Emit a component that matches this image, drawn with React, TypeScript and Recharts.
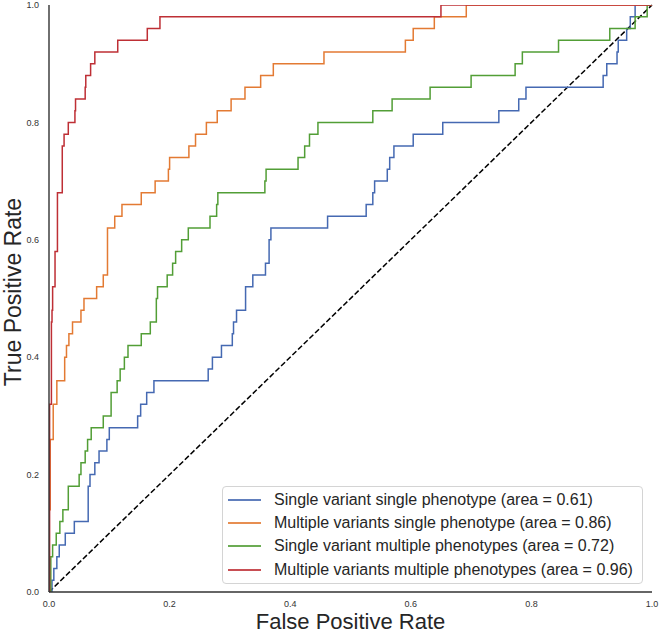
import React from 'react';
import { LineChart, Line, XAxis, YAxis, ReferenceLine, Legend } from 'recharts';

const axisTicks = [0, 0.2, 0.4, 0.6, 0.8, 1.0];

const seriesNames = [
  'Single variant single phenotype (area = 0.61)',
  'Multiple variants single phenotype (area = 0.86)',
  'Single variant multiple phenotypes (area = 0.72)',
  'Multiple variants multiple phenotypes (area = 0.96)',
];
const seriesColors = ['#4569B2', '#E37A33', '#529E36', '#BE2F35'];

// Single variant single phenotype
const svspFpr = [0, 0.005, 0.008, 0.013, 0.017, 0.027, 0.042, 0.065, 0.068, 0.076, 0.083, 0.096, 0.100, 0.147, 0.152, 0.162, 0.174, 0.264, 0.271, 0.286, 0.304, 0.306, 0.311, 0.326, 0.338, 0.359, 0.365, 0.368, 0.462, 0.526, 0.537, 0.540, 0.561, 0.565, 0.572, 0.604, 0.653, 0.746, 0.779, 0.791, 0.919, 0.925, 0.942, 0.944, 0.958, 0.964, 0.972, 1.0];
const svspTpr = [0, 0.02, 0.04, 0.06, 0.08, 0.10, 0.12, 0.18, 0.20, 0.22, 0.24, 0.26, 0.28, 0.30, 0.32, 0.34, 0.36, 0.38, 0.40, 0.42, 0.44, 0.46, 0.48, 0.52, 0.54, 0.56, 0.60, 0.62, 0.64, 0.66, 0.68, 0.70, 0.72, 0.74, 0.76, 0.78, 0.80, 0.82, 0.84, 0.86, 0.88, 0.90, 0.92, 0.94, 0.96, 0.98, 1.0, 1.0];

// Multiple variants single phenotype
const mvspFpr = [0, 0, 0.002, 0.007, 0.013, 0.026, 0.029, 0.033, 0.039, 0.053, 0.058, 0.079, 0.090, 0.097, 0.109, 0.121, 0.153, 0.176, 0.198, 0.200, 0.232, 0.243, 0.261, 0.279, 0.302, 0.325, 0.351, 0.372, 0.456, 0.591, 0.604, 0.639, 0.692, 1.0];
const mvspTpr = [0, 0.14, 0.26, 0.32, 0.36, 0.40, 0.42, 0.44, 0.46, 0.48, 0.50, 0.52, 0.54, 0.62, 0.64, 0.66, 0.68, 0.70, 0.72, 0.74, 0.76, 0.78, 0.80, 0.82, 0.84, 0.86, 0.88, 0.90, 0.92, 0.94, 0.96, 0.98, 1.0, 1.0];

// Single variant multiple phenotypes
const svmpFpr = [0, 0.003, 0.006, 0.012, 0.018, 0.023, 0.032, 0.050, 0.053, 0.060, 0.064, 0.070, 0.090, 0.103, 0.113, 0.118, 0.125, 0.131, 0.153, 0.168, 0.178, 0.180, 0.196, 0.205, 0.210, 0.220, 0.231, 0.267, 0.278, 0.280, 0.358, 0.360, 0.413, 0.424, 0.432, 0.446, 0.537, 0.569, 0.632, 0.700, 0.773, 0.785, 0.845, 0.930, 0.972, 0.992, 1.0];
const svmpTpr = [0, 0.06, 0.08, 0.10, 0.12, 0.14, 0.18, 0.20, 0.22, 0.24, 0.26, 0.28, 0.30, 0.34, 0.36, 0.38, 0.40, 0.42, 0.44, 0.46, 0.50, 0.52, 0.54, 0.56, 0.58, 0.60, 0.62, 0.64, 0.66, 0.68, 0.70, 0.72, 0.74, 0.76, 0.78, 0.80, 0.82, 0.84, 0.86, 0.88, 0.90, 0.92, 0.94, 0.96, 0.98, 1.0, 1.0];

// Multiple variants multiple phenotypes
const mvmpFpr = [0, 0.001, 0.004, 0.005, 0.006, 0.010, 0.014, 0.022, 0.025, 0.032, 0.043, 0.044, 0.060, 0.061, 0.069, 0.076, 0.114, 0.163, 0.184, 0.650, 1.0];
const mvmpTpr = [0, 0.32, 0.46, 0.48, 0.52, 0.58, 0.68, 0.76, 0.78, 0.80, 0.82, 0.84, 0.86, 0.88, 0.90, 0.92, 0.94, 0.96, 0.98, 1.0, 1.0];

const zip = (xs: number[], ys: number[]) => xs.map((x, i) => ({ x, y: ys[i] }));

const seriesData = [
  zip(svspFpr, svspTpr),
  zip(mvspFpr, mvspTpr),
  zip(svmpFpr, svmpTpr),
  zip(mvmpFpr, mvmpTpr),
];

const FONT = '"Liberation Sans", Arial, Helvetica, sans-serif';

const LegendBox = () => (
  <div
    style={{
      boxSizing: 'border-box',
      width: 421,
      height: 98,
      border: '1px solid #d4d4d4',
      borderRadius: 4,
      background: '#fff',
      paddingTop: 1.5,
      fontFamily: FONT,
      fontSize: 16,
      color: '#262626',
    }}
  >
    {seriesNames.map((name, i) => (
      <div key={name} style={{ display: 'flex', alignItems: 'center', height: 23.2, whiteSpace: 'nowrap' }}>
        <div style={{ marginLeft: 5, width: 33, height: 2, background: seriesColors[i], opacity: 0.85 }} />
        <span style={{ marginLeft: 13 }}>{name}</span>
      </div>
    ))}
  </div>
);

export default function App() {
  return (
    <div style={{ position: 'absolute', left: 0, top: 0, width: 660, height: 633, background: '#fff' }}>
      <LineChart width={660} height={633} margin={{ top: 5, right: 8, bottom: 0, left: 0 }}>
        <XAxis
          type="number"
          dataKey="x"
          domain={[0, 1]}
          ticks={axisTicks}
          tickFormatter={(v: number) => v.toFixed(1)}
          height={41}
          tickLine={false}
          tickSize={0}
          tickMargin={9}
          axisLine={{ stroke: '#333', strokeWidth: 1.4 }}
          tick={{ fontSize: 9, fill: '#333', fontFamily: FONT }}
          allowDataOverflow
          label={(props: any) => {
            const vb = props.viewBox || { x: 49, y: 592, width: 603 };
            return (
              <text x={vb.x + vb.width / 2} y={vb.y + 37} textAnchor="middle" fontSize={22} fill="#262626" fontFamily={FONT}>
                False Positive Rate
              </text>
            );
          }}
        />
        <YAxis
          type="number"
          dataKey="y"
          domain={[0, 1]}
          ticks={axisTicks}
          tickFormatter={(v: number) => v.toFixed(1)}
          width={49}
          tickLine={false}
          tickSize={0}
          tickMargin={10}
          axisLine={{ stroke: '#333', strokeWidth: 1.4 }}
          tick={{ fontSize: 9, fill: '#333', fontFamily: FONT }}
          allowDataOverflow
          label={() => {
            const cx = 21;
            const cy = 292;
            return (
              <text x={cx} y={cy} transform={`rotate(-90, ${cx}, ${cy})`} textAnchor="middle" fontSize={23} fill="#262626" fontFamily={FONT}>
                True Positive Rate
              </text>
            );
          }}
        />
        <ReferenceLine
          segment={[{ x: 0, y: 0 }, { x: 1, y: 1 }]}
          stroke="#000"
          strokeWidth={1.5}
          strokeDasharray="5.5 2.4"
        />
        {seriesData.map((d, i) => (
          <Line
            key={seriesNames[i]}
            data={d}
            dataKey="y"
            name={seriesNames[i]}
            type="stepAfter"
            stroke={seriesColors[i]}
            strokeWidth={1.5}
            dot={false}
            activeDot={false}
            isAnimationActive={false}
          />
        ))}
        <Legend
          layout="vertical"
          align="center"
          verticalAlign="middle"
          content={() => <LegendBox />}
          wrapperStyle={{ position: 'absolute', left: 222, top: 486, width: 421, height: 98 }}
        />
      </LineChart>
    </div>
  );
}
